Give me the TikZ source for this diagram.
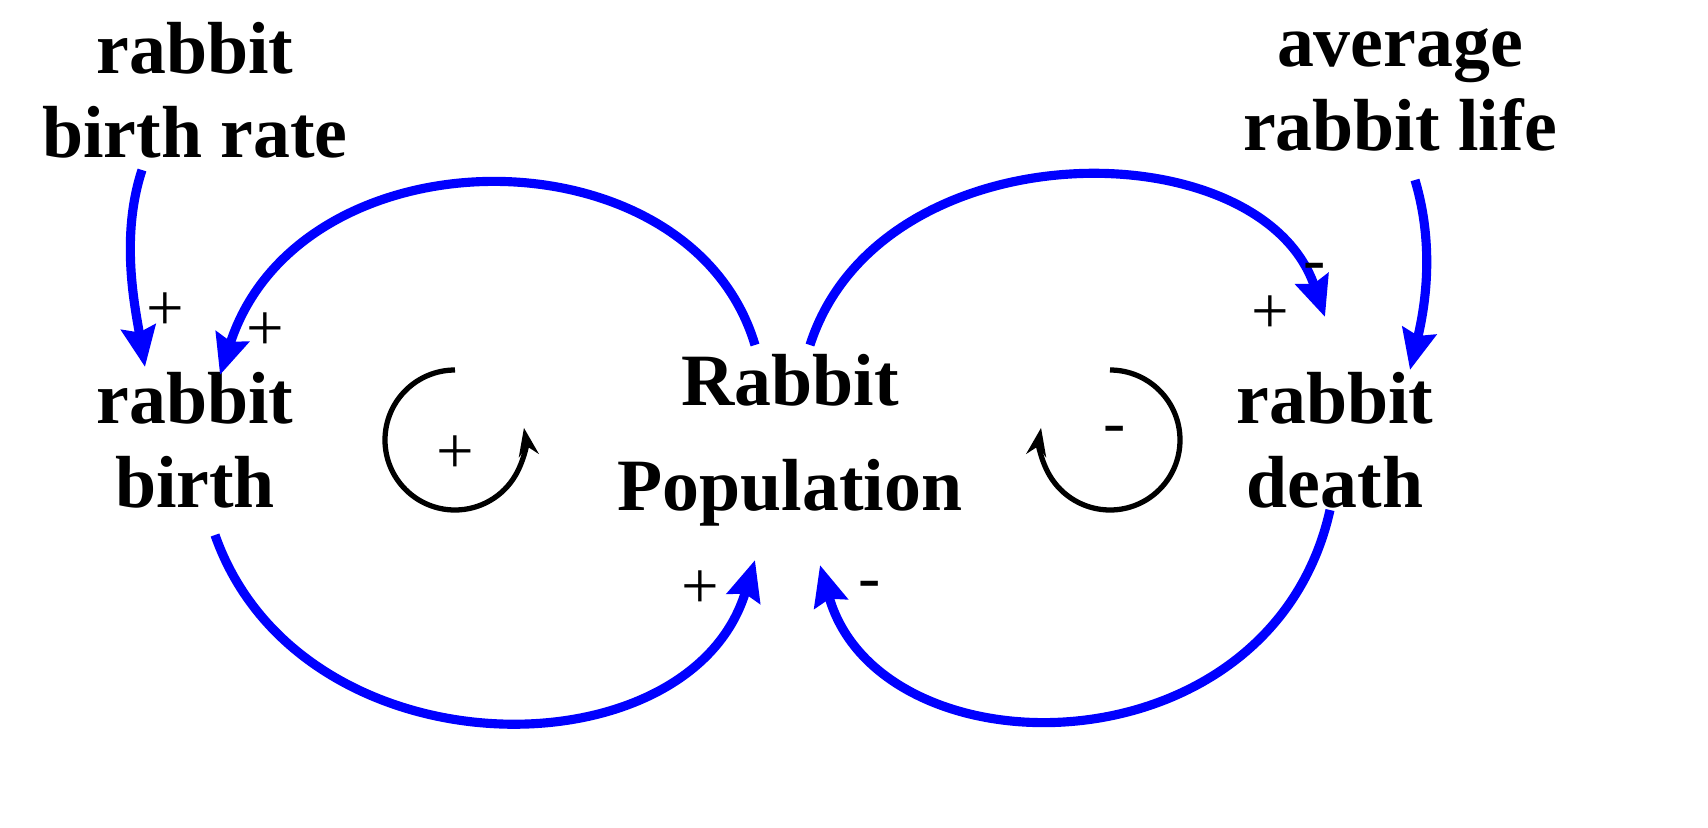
\documentclass[tikz,border=0pt]{standalone}
\usepackage{fontspec}
\setmainfont{Liberation Serif}
\usetikzlibrary{arrows.meta}
\begin{document}
\begin{tikzpicture}
\useasboundingbox (0,0) rectangle (17.08,8.27);
\tikzset{
 lbl/.style={font=\bfseries\fontsize{21}{24}\selectfont,align=center,inner sep=0},
 sgn/.style={font=\fontsize{19}{19}\selectfont,inner sep=0},
 link/.style={blue,line width=2.6pt,-{Stealth[length=0.4cm,width=0.34cm,inset=0.05cm]}},
 loop/.style={black,line width=1.5pt,-{Stealth[length=0.28cm,width=0.2cm]}}
}
\node[lbl] (br) at (1.95,7.37) {rabbit\\birth rate};
\node[lbl] (avg) at (14.0,7.37) {average\\rabbit life};
\node[lbl] (birth) at (1.95,3.87) {rabbit\\birth};
\node[lbl] (death) at (13.35,3.87) {rabbit\\death};
\node[lbl,font=\bfseries\fontsize{21}{30}\selectfont] (pop) at (7.9,3.87) {Rabbit\\Population};
\coordinate (a1) at (7.55,4.82); \coordinate (a1e) at (2.2,4.52);
\coordinate (a2) at (2.15,2.92); \coordinate (a2e) at (7.55,2.67);
\coordinate (a3) at (8.1,4.82); \coordinate (a3e) at (13.25,5.1);
\coordinate (a4) at (13.3,3.17); \coordinate (a4e) at (8.2,2.62);
\coordinate (b1) at (1.42,6.57); \coordinate (b1e) at (1.45,4.6);
\coordinate (c1) at (14.15,6.47); \coordinate (c1e) at (14.1,4.57);
\draw[link] (a1) .. controls (6.9,7.0) and (3.0,7.0) .. (a1e);
\draw[link] (a2) .. controls (3.0,0.5) and (6.9,0.5) .. (a2e);
\draw[link] (a3) .. controls (8.8,7.0) and (12.6,7.0) .. (a3e);
\draw[link] (a4) .. controls (12.7,0.5) and (8.8,0.5) .. (a4e);
\draw[link] (b1) .. controls (1.2,5.9) and (1.35,5.2) .. (b1e);
\draw[link] (c1) .. controls (14.35,5.8) and (14.25,5.2) .. (c1e);
\node[sgn] (s1) at (1.65,5.15) {+};
\node[sgn] (s2) at (2.65,4.95) {+};
\node[sgn] (s3) at (7.0,2.37) {+};
\node[sgn] (s4) at (12.7,5.12) {+};
\node[sgn] (s5) at (13.15,5.55) {-};
\node[sgn] (s6) at (8.7,2.37) {-};
\draw[loop] (4.55,4.57) arc (90:370:0.7);
\node[sgn] (l1) at (4.55,3.72) {+};
\draw[loop] (11.1,4.57) arc (90:-190:0.7);
\node[sgn] (l2) at (11.15,3.92) {-};
\end{tikzpicture}
\end{document}
